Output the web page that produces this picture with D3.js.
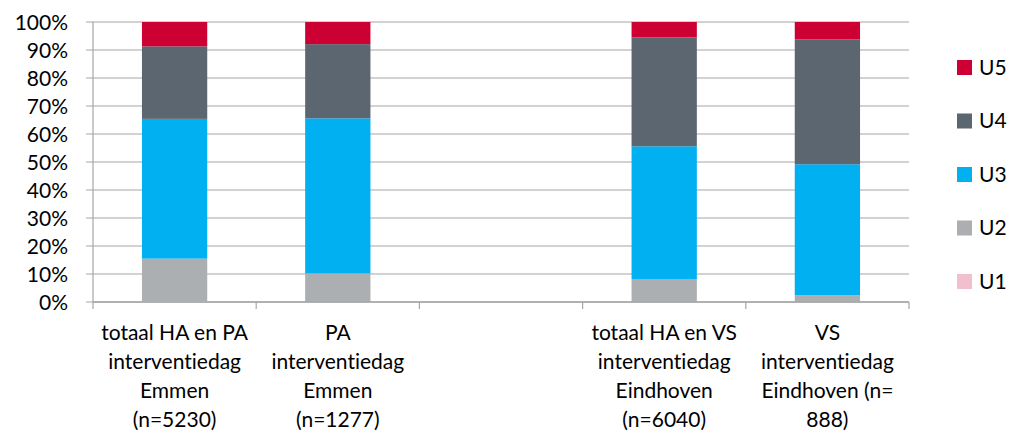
<!DOCTYPE html>
<html>
<head>
<meta charset="utf-8">
<script src="https://cdn.jsdelivr.net/npm/d3@7"></script>
<style>
  body { margin: 0; background: #fff; }
  text { font-family: Lato, "Open Sans", sans-serif; fill: #000; font-variant-ligatures: none; }
</style>
</head>
<body>
<script>
// categories (one empty slot between the two groups)
var categories = ["c1", "c2", "c3", "c4", "c5"];
var categoryLabels = [
  ["totaal HA en PA", "interventiedag", "Emmen", "(n=5230)"],
  ["PA", "interventiedag", "Emmen", "(n=1277)"],
  [],
  ["totaal HA en VS", "interventiedag", "Eindhoven", "(n=6040)"],
  ["VS", "interventiedag", "Eindhoven (n=", "888)"]
];

// series values in percent (null = no bar)
var seriesNames = ["U1", "U2", "U3", "U4", "U5"];
var u1 = [0.3, 0, null, 0, 0];
var u2 = [15.2, 10.2, null, 8.2, 2.4];
var u3 = [49.9, 55.4, null, 47.4, 46.8];
var u4 = [25.9, 26.5, null, 38.9, 44.6];
var u5 = [8.7, 7.9, null, 5.5, 6.2];
var seriesColors = ["#F2BFCF", "#ABAFB2", "#00B0F0", "#5C6670", "#CC0033"];

var yTicks = [0, 10, 20, 30, 40, 50, 60, 70, 80, 90, 100];

var margin = {left: 93, right: 102, top: 22, bottom: 132},
    width = 1011 - margin.left - margin.right,
    height = 434 - margin.top - margin.bottom;

var svg = d3.select("body").append("svg")
    .attr("width", 1011)
    .attr("height", 434)
  .append("g")
    .attr("transform", "translate(" + margin.left + "," + margin.top + ")");

var xScale = d3.scaleBand().domain(categories).range([0, width]).paddingInner(0.6).paddingOuter(0.3);
var xTickScale = d3.scaleBand().domain(categories).range([0, width]);
var yScale = d3.scaleLinear().domain([0, 100]).range([height, 0]);

// build rows for stacking
var rows = categories.map(function(c, i) {
  return {cat: c, U1: u1[i], U2: u2[i], U3: u3[i], U4: u4[i], U5: u5[i]};
}).filter(function(d) { return d.U3 !== null; });

var stack = d3.stack().keys(seriesNames);
var stacked = stack(rows);

// gridlines
svg.append("g")
  .selectAll("line")
  .data(yTicks)
  .enter().append("line")
  .attr("x1", -7)
  .attr("x2", width)
  .attr("y1", function(d) { return yScale(d); })
  .attr("y2", function(d) { return yScale(d); })
  .attr("stroke", "#A6A6A6")
  .attr("stroke-width", 1.2);

// bars
svg.append("g")
  .selectAll("g")
  .data(stacked)
  .enter().append("g")
  .attr("fill", function(d, i) { return seriesColors[i]; })
  .selectAll("rect")
  .data(function(d) { return d; })
  .enter().append("rect")
  .attr("x", function(d) { return xScale(d.data.cat); })
  .attr("width", xScale.bandwidth())
  .attr("y", function(d) { return yScale(d[1]); })
  .attr("height", function(d) { return yScale(d[0]) - yScale(d[1]); });

// y axis
var yAxis = d3.axisLeft(yScale).tickValues(yTicks).tickSize(0).tickPadding(25)
  .tickFormat(function(d) { return d + "%"; });
var gY = svg.append("g").call(yAxis);
gY.select(".domain").remove();
gY.selectAll("text").attr("font-size", "21px").attr("dy", "0.36em");

svg.append("line")
  .attr("x1", 0).attr("x2", 0)
  .attr("y1", 0).attr("y2", height)
  .attr("stroke", "#A6A6A6").attr("stroke-width", 1.2);

// x axis baseline + tick marks on band edges
svg.append("line")
  .attr("x1", 0).attr("x2", width)
  .attr("y1", height).attr("y2", height)
  .attr("stroke", "#A6A6A6").attr("stroke-width", 1.5);

var edges = categories.map(function(c) { return xTickScale(c); }).concat([width]);
svg.append("g")
  .selectAll("line")
  .data(edges)
  .enter().append("line")
  .attr("x1", function(d) { return d; })
  .attr("x2", function(d) { return d; })
  .attr("y1", height)
  .attr("y2", height + 7)
  .attr("stroke", "#A6A6A6")
  .attr("stroke-width", 1.2);

// x labels
var xLabels = svg.append("g")
  .selectAll("text")
  .data(categories)
  .enter().append("text")
  .attr("text-anchor", "middle")
  .attr("font-size", "21px")
  .attr("transform", function(d) {
    return "translate(" + (xTickScale(d) + xTickScale.bandwidth() / 2) + "," + (height + 38) + ")";
  });

xLabels.selectAll("tspan")
  .data(function(d, i) { return categoryLabels[i]; })
  .enter().append("tspan")
  .attr("x", 0)
  .attr("y", function(d, i) { return i * 29; })
  .text(function(d) { return d; });

// legend
var legendNames = seriesNames.slice().reverse();
var legendColors = seriesColors.slice().reverse();
var legend = svg.append("g")
  .attr("transform", "translate(" + (width + 48) + ",0)");

var items = legend.selectAll("g")
  .data(legendNames)
  .enter().append("g")
  .attr("transform", function(d, i) { return "translate(0," + (45 + i * 53.5) + ")"; });

items.append("rect")
  .attr("x", 0)
  .attr("y", -7)
  .attr("width", 15)
  .attr("height", 15)
  .attr("fill", function(d, i) { return legendColors[i]; });

items.append("text")
  .attr("x", 22)
  .attr("y", 0)
  .attr("dy", "0.36em")
  .attr("font-size", "21px")
  .text(function(d) { return d; });
</script>
</body>
</html>
